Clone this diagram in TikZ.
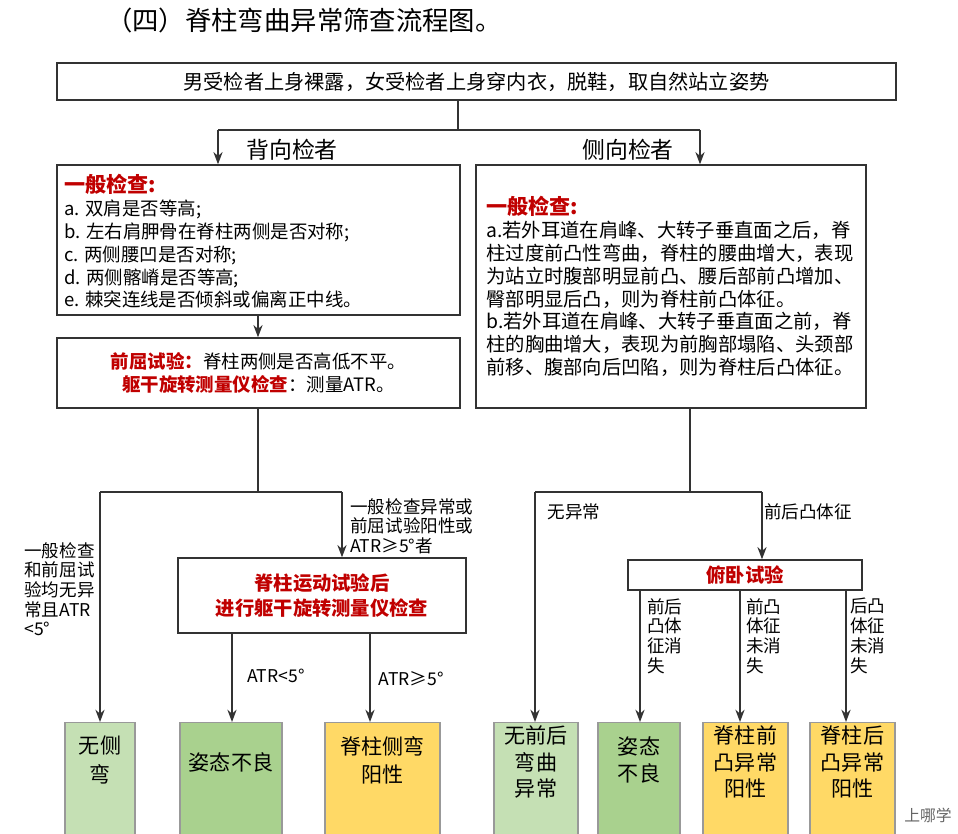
\documentclass[tikz,border=0pt]{standalone}
\usepackage{fontspec}
\setmainfont{Noto Sans CJK SC}
\usetikzlibrary{arrows.meta}
\definecolor{redt}{RGB}{192,0,0}
\definecolor{lgreen}{RGB}{197,224,180}
\definecolor{mgreen}{RGB}{169,209,142}
\definecolor{yell}{RGB}{255,217,102}
\begin{document}
\begin{tikzpicture}[x=0.02cm,y=-0.02cm,
    % --- styles ---
    box/.style = {draw=black!80, thick, inner sep=2pt},
    leaf/.style = {draw=black!40, thick, fill=#1, anchor=north, minimum height=2.6cm},
    txt/.style = {font=\fontsize{10.5}{13}\selectfont, align=left, inner sep=0pt},
    lbl/.style = {font=\fontsize{10}{11.2}\selectfont, align=left, inner sep=0pt},
    conn/.style = {thick, black!80},
    arr/.style = {thick, black!80, -{Stealth[length=7pt]}}
    ]
    \useasboundingbox (0,0) rectangle (958,834);
    \clip (0,0) rectangle (958,834);

    % --- title ---
    \node[anchor=west, font=\fontsize{15}{17}\selectfont] (title) at (100,20) {（四）脊柱弯曲异常筛查流程图。};

    % --- top box ---
    \node[box, minimum width=16.78cm, minimum height=0.74cm, font=\fontsize{11.5}{13}\selectfont] (top) at (476.5,81.5)
        {男受检者上身裸露，女受检者上身穿内衣，脱鞋，取自然站立姿势};
    \coordinate (t1) at (458,130);
    \coordinate (tl) at (218,130);
    \coordinate (tr) at (700,130);
    \draw[conn] (top.south -| t1) -- (t1);
    \draw[conn] (tl) -- (tr);
    \node[font=\fontsize{13}{14}\selectfont] (back) at (292,150) {背向检者};
    \node[font=\fontsize{13}{14}\selectfont] (side) at (628,150) {侧向检者};

    % --- left column ---
    \node[box, minimum width=8.06cm, minimum height=3cm] (gen) at (258.5,240) {};
    \node[txt, anchor=north west] (gentxt) at (64,174)
        {\textcolor{redt}{\bfseries\fontsize{12}{13}\selectfont 一般检查:}\\
         a. 双肩是否等高;\\
         b. 左右肩胛骨在脊柱两侧是否对称;\\
         c. 两侧腰凹是否对称;\\
         d. 两侧髂嵴是否等高;\\
         e. 棘突连线是否倾斜或偏离正中线。};
    \node[box, minimum width=8.06cm, minimum height=1.4cm] (bend) at (258.5,373) {};
    \node[txt, align=center] (bendtxt) at (258.5,373)
        {\textcolor{redt}{\bfseries 前屈试验：}脊柱两侧是否高低不平。\\
         \textcolor{redt}{\bfseries 躯干旋转测量仪检查}：测量ATR。};
    \draw[arr] (tl) -- (gen.north -| tl);
    \draw[arr] (gen.south -| 258,0) -- (bend.north -| 258,0);

    \coordinate (lj) at (258,492);
    \coordinate (ll) at (100,492);
    \coordinate (lr) at (342,492);
    \draw[conn] (bend.south -| lj) -- (lj);
    \draw[conn] (ll) -- (lr);

    \node[box, minimum width=5.76cm, minimum height=1.5cm] (atr) at (322,595.5) {};
    \node[txt, align=center, text=redt, font=\bfseries\fontsize{11}{14}\selectfont] (atrtxt) at (322,595.5)
        {脊柱运动试验后\\进行躯干旋转测量仪检查};
    \draw[arr] (lr) -- (atr.north -| lr);
    \node[lbl, anchor=north west] (lab1) at (350,498) {一般检查异常或\\前屈试验阳性或\\ATR≥5°者};
    \node[lbl, anchor=north west] (lab2) at (24,542) {一般检查\\和前屈试\\验均无异\\常且ATR\\<5°};

    \node[leaf=lgreen, minimum width=1.4cm] (b1) at (100,722) {};
    \node[leaf=mgreen, minimum width=2.04cm] (b2) at (231,722) {};
    \node[leaf=yell, minimum width=2.3cm] (b3) at (382.5,722) {};
    \node[font=\fontsize{12}{16}\selectfont, align=center] (b1t) at (100,760) {无侧\\弯};
    \node[font=\fontsize{12}{16}\selectfont] (b2t) at (231,762) {姿态不良};
    \node[font=\fontsize{12}{16}\selectfont, align=center] (b3t) at (382.5,760) {脊柱侧弯\\阳性};
    \draw[arr] (ll) -- (b1.north);
    \draw[arr] (atr.south -| 232,0) -- (b2.north -| 232,0);
    \draw[arr] (atr.south -| 370,0) -- (b3.north -| 370,0);
    \node[lbl] (lab3) at (276,676) {ATR<5°};
    \node[lbl] (lab4) at (411,679) {ATR≥5°};

    % --- right column ---
    \node[box, minimum width=7.8cm, minimum height=4.86cm] (gen2) at (671,286.5) {};
    \node[txt, anchor=north west, font=\fontsize{11}{13}\selectfont] (gen2txt) at (486,196)
        {\textcolor{redt}{\bfseries\fontsize{12}{13}\selectfont 一般检查:}\\
         a.若外耳道在肩峰、大转子垂直面之后，脊\\
         柱过度前凸性弯曲，脊柱的腰曲增大，表现\\
         为站立时腹部明显前凸、腰后部前凸增加、\\
         臀部明显后凸，则为脊柱前凸体征。\\
         b.若外耳道在肩峰、大转子垂直面之前，脊\\
         柱的胸曲增大，表现为前胸部塌陷、头颈部\\
         前移、腹部向后凹陷，则为脊柱后凸体征。};
    \draw[arr] (tr) -- (gen2.north -| tr);

    \coordinate (rj) at (690,492);
    \coordinate (rl) at (535,492);
    \coordinate (rr) at (762,492);
    \draw[conn] (gen2.south -| rj) -- (rj);
    \draw[conn] (rl) -- (rr);
    \node[lbl] (lab5) at (574,512) {无异常};
    \node[lbl] (lab6) at (808,512) {前后凸体征};

    \node[box, minimum width=4.68cm, minimum height=0.6cm, text=redt, font=\bfseries\fontsize{11}{13}\selectfont] (prone) at (745,575) {俯卧试验};
    \draw[arr] (rr) -- (prone.north -| rr);

    \node[leaf=lgreen, minimum width=1.68cm] (c1) at (536,722) {};
    \node[leaf=mgreen, minimum width=1.64cm] (c2) at (639,722) {};
    \node[leaf=yell, minimum width=1.7cm] (c3) at (745.5,722) {};
    \node[leaf=yell, minimum width=1.7cm] (c4) at (852.5,722) {};
    \node[font=\fontsize{12}{15}\selectfont, align=center] (c1t) at (536,762) {无前后\\弯曲\\异常};
    \node[font=\fontsize{12}{15}\selectfont, align=center] (c2t) at (639,760) {姿态\\不良};
    \node[font=\fontsize{12}{15}\selectfont, align=center] (c3t) at (745.5,762) {脊柱前\\凸异常\\阳性};
    \node[font=\fontsize{12}{15}\selectfont, align=center] (c4t) at (852.5,762) {脊柱后\\凸异常\\阳性};
    \draw[arr] (rl) -- (c1.north -| rl);
    \draw[arr] (prone.south -| 640,0) -- (c2.north -| 640,0);
    \draw[arr] (prone.south -| 740,0) -- (c3.north -| 740,0);
    \draw[arr] (prone.south -| 846,0) -- (c4.north -| 846,0);
    \node[lbl, anchor=north west] (lab7) at (647,598) {前后\\凸体\\征消\\失};
    \node[lbl, anchor=north west] (lab8) at (746,598) {前凸\\体征\\未消\\失};
    \node[lbl, anchor=north west] (lab9) at (850,598) {后凸\\体征\\未消\\失};

    \node[text=black!60, font=\fontsize{9}{10}\selectfont] (wm) at (928,815) {上哪学};
\end{tikzpicture}
\end{document}
